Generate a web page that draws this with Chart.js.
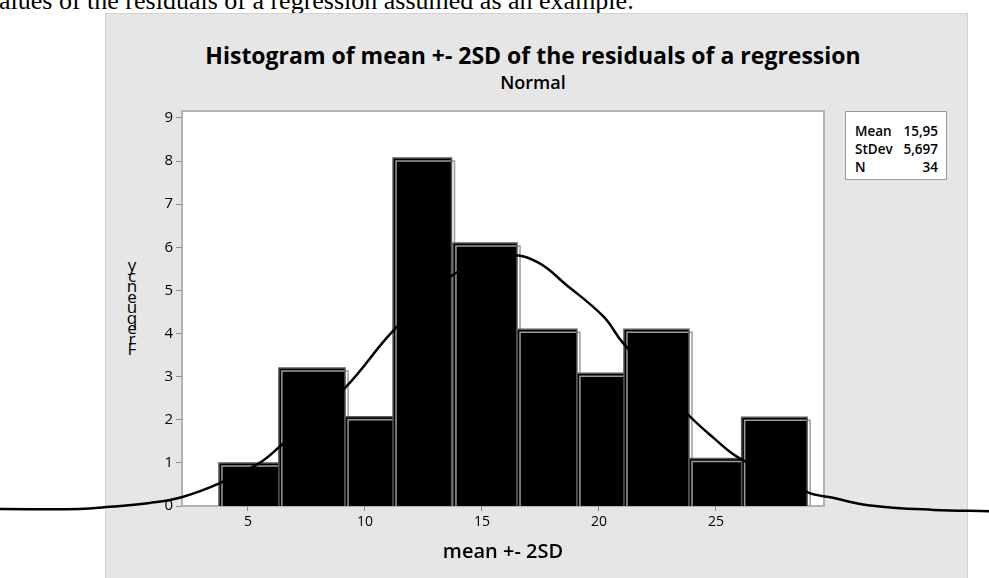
<!DOCTYPE html>
<html>
<head>
<meta charset="utf-8">
<script src="https://cdn.jsdelivr.net/npm/chart.js@4.4.0/dist/chart.umd.min.js"></script>
<style>
    html, body { margin: 0; padding: 0; background: #fff; }
    body { width: 989px; height: 578px; position: relative; overflow: hidden; font-family: "Open Sans", sans-serif; color: #000; }
    #lead { position: absolute; left: -1px; top: -12px; font: 26px/26px "Liberation Serif", serif; white-space: nowrap; }
    #panel { position: absolute; left: 105px; top: 13px; width: 863px; height: 580px; background: #e6e6e6; border: 1px solid #d2d2d2; box-sizing: border-box; }
    #title { position: absolute; left: 0; width: 1066px; top: 40px; text-align: center; font-weight: 700; font-size: 23px; line-height: 30px; }
    #subtitle { position: absolute; left: 0; width: 1066px; top: 70px; text-align: center; font-weight: 600; font-size: 18px; line-height: 24px; }
    #ytitle { position: absolute; left: 122px; top: 260px; width: 20px; text-align: center; font-size: 17px; line-height: 10.5px; }
    #stats { position: absolute; left: 845px; top: 111px; width: 102px; height: 69px; background: #fff; border: 1px solid #9a9a9a; box-sizing: border-box; padding: 10px 8px 0 9px; font-size: 13.5px; font-weight: 600; z-index: 2; }
    #stats .row { display: flex; justify-content: space-between; line-height: 18px; }
    canvas { position: absolute; left: 0; top: 0; z-index: 1; }
</style>
</head>
<body>
<div id="lead">alues of the residuals of a regression assumed as an example.</div>
<div id="panel"></div>
<div id="title">Histogram of mean +- 2SD of the residuals of a regression</div>
<div id="subtitle">Normal</div>
<div id="ytitle"></div>
<div id="stats">
    <div class="row"><span>Mean</span><span>15,95</span></div>
    <div class="row"><span>StDev</span><span>5,697</span></div>
    <div class="row"><span>N</span><span>34</span></div>
</div>
<canvas id="histChart" width="989" height="578"></canvas>
<script>
// histogram bins (as drawn)
const binStart = [3.76, 6.32, 9.15, 11.2, 13.76, 16.5, 19.06, 21.07, 23.85, 26.1];
const binEnd   = [6.37, 9.15, 11.28, 13.7, 16.5, 19.06, 21.24, 23.85, 26.37, 28.9];
const counts   = [1.0, 3.2, 2.07, 8.07, 6.1, 4.1, 3.08, 4.1, 1.1, 2.06];

// fitted normal curve (runs past the frame)
const curveX = [-5.6, -2.2, -0.9, 0.8, 2.2, 3.8, 5.5, 6.3, 9.15, 11.2, 13.7, 16.1, 17.35, 18.6, 20.2, 21.0, 23.7, 24.9, 26.0, 28.9, 30.0, 31.5, 34.3, 36.7];
const curveY = [-0.07, -0.07, -0.02, 0.07, 0.21, 0.53, 1.0, 1.35, 2.74, 4.06, 5.34, 5.8, 5.66, 5.13, 4.39, 3.8, 2.18, 1.58, 1.11, 0.32, 0.19, 0.02, -0.09, -0.12];

const xTicks = [5, 10, 15, 20, 25];
const yTicks = [0, 1, 2, 3, 4, 5, 6, 7, 8, 9];
const xMin = 2.18, xMax = 29.62;
const yTitle = 'Frequency';

// garbled vertical axis title: letters stacked, last letter on top
document.getElementById('ytitle').innerHTML = yTitle.split('').reverse().map(c => `<div>${c}</div>`).join('');

const datasets = counts.map((h, i) => ({
    isBin: true,
    data: [
        { x: binStart[i], y: 0 }, { x: binStart[i], y: h },
        { x: binEnd[i], y: h }, { x: binEnd[i], y: 0 }
    ],
    backgroundColor: '#000',
    borderColor: '#595959',
    borderWidth: 1.5,
    fill: 'origin',
    pointRadius: 0,
    tension: 0,
    order: 50 - i
}));

datasets.push({
    data: curveX.map((x, i) => ({ x: x, y: curveY[i] })),
    borderColor: '#000',
    borderWidth: 2.5,
    fill: false,
    pointRadius: 0,
    tension: 0.4,
    clip: false,
    order: -10
});

const framePlugin = {
    id: 'frame',
    beforeDraw(chart) {
        const { ctx, chartArea: a } = chart;
        ctx.save();
        ctx.fillStyle = '#fff';
        ctx.fillRect(a.left, a.top, a.right - a.left, a.bottom - a.top);
        ctx.strokeStyle = '#b3b3b3';
        ctx.lineWidth = 2;
        ctx.strokeRect(a.left, a.top, a.right - a.left, a.bottom - a.top);
        ctx.restore();
    },
    beforeDatasetDraw(chart, args) {
        if (!args.meta._dataset.isBin) return;
        const ctx = chart.ctx;
        ctx.save();
        ctx.shadowColor = '#9c9c9c';
        ctx.shadowOffsetX = 3;
        ctx.shadowOffsetY = 3;
        ctx.shadowBlur = 0;
    },
    afterDatasetDraw(chart, args) {
        if (!args.meta._dataset.isBin) return;
        chart.ctx.restore();
    }
};

new Chart(document.getElementById('histChart'), {
    type: 'line',
    data: { datasets: datasets },
    options: {
        responsive: false,
        devicePixelRatio: 1,
        animation: false,
        layout: { padding: { left: 142, right: 165, top: 111, bottom: 0 } },
        plugins: { legend: { display: false }, tooltip: { enabled: false } },
        scales: {
            x: {
                type: 'linear',
                bounds: 'data',
                // range set here rather than min/max so the curve tails are not cut off
                afterDataLimits: s => { s.min = xMin; s.max = xMax; },
                afterBuildTicks: s => { s.ticks = xTicks.map(v => ({ value: v })); },
                afterFit: s => { s.height = 72; s.paddingLeft = 0; s.paddingRight = 0; },
                ticks: { color: '#000', font: { family: 'Open Sans', size: 14, weight: '500' }, padding: 3, maxRotation: 0 },
                grid: { drawOnChartArea: false, drawTicks: true, tickLength: 5, color: '#8c8c8c' },
                border: { display: false },
                title: {
                    display: true, text: 'mean +- 2SD', color: '#000',
                    font: { family: 'Open Sans', size: 20, weight: '600' },
                    padding: { top: 2, bottom: 14 }
                }
            },
            y: {
                min: 0,
                max: 9.16,
                afterBuildTicks: s => { s.ticks = yTicks.map(v => ({ value: v })); },
                afterFit: s => { s.width = 40; s.paddingTop = 0; s.paddingBottom = 0; },
                ticks: { color: '#000', font: { family: 'Open Sans', size: 15, weight: '500' }, padding: 3 },
                grid: { drawOnChartArea: false, drawTicks: true, tickLength: 6, color: '#8c8c8c' },
                border: { display: false }
            }
        }
    },
    plugins: [framePlugin]
});
</script>
</body>
</html>
